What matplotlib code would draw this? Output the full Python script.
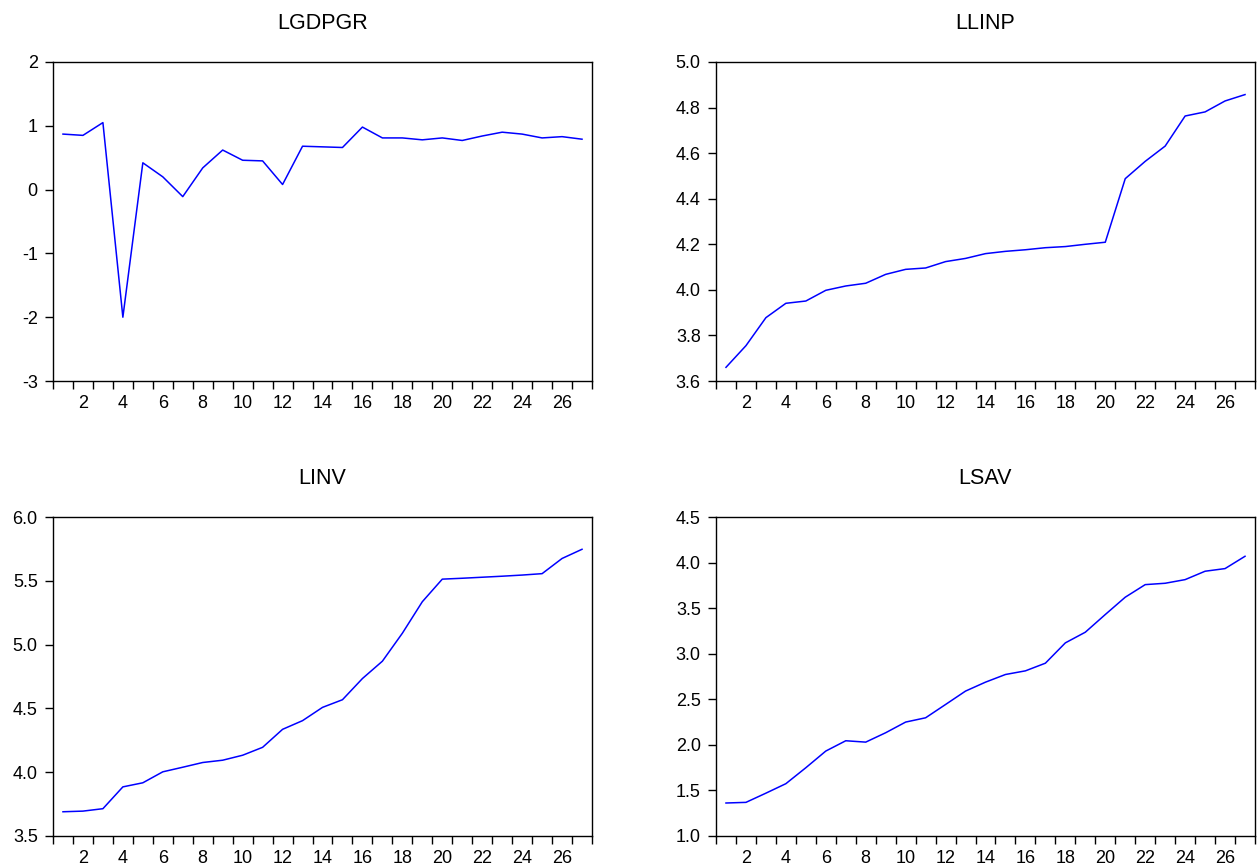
import matplotlib
matplotlib.use('Agg')
import matplotlib.pyplot as plt
import numpy as np

plt.rcParams['font.family'] = ['Liberation Sans', 'DejaVu Sans']
plt.rcParams['axes.unicode_minus'] = False

# observations 1..27
obs = np.arange(1, 28)

lgdpgr = [0.87, 0.85, 1.05, -2.00, 0.42, 0.20, -0.11, 0.34, 0.62, 0.46, 0.45, 0.08, 0.68, 0.67,
          0.66, 0.98, 0.81, 0.81, 0.78, 0.81, 0.77, 0.84, 0.90, 0.87, 0.81, 0.83, 0.79]
llinp = [3.660, 3.755, 3.878, 3.941, 3.951, 3.998, 4.017, 4.029, 4.068, 4.090, 4.096, 4.124, 4.138, 4.159,
         4.169, 4.176, 4.185, 4.190, 4.200, 4.209, 4.488, 4.564, 4.631, 4.763, 4.781, 4.829, 4.857]
linv = [3.690, 3.695, 3.714, 3.885, 3.917, 4.003, 4.039, 4.076, 4.094, 4.133, 4.195, 4.336, 4.404, 4.508,
        4.568, 4.734, 4.870, 5.089, 5.336, 5.513, 5.520, 5.528, 5.536, 5.545, 5.556, 5.675, 5.747]
lsav = [1.362, 1.369, 1.470, 1.574, 1.749, 1.932, 2.045, 2.030, 2.133, 2.250, 2.297, 2.443, 2.590, 2.688,
        2.772, 2.812, 2.896, 3.119, 3.236, 3.430, 3.620, 3.758, 3.773, 3.813, 3.905, 3.934, 4.069]

panels = [
    ('LGDPGR', lgdpgr, np.arange(-3, 2.01, 1), '%d'),
    ('LLINP', llinp, np.arange(3.6, 5.001, 0.2), '%.1f'),
    ('LINV', linv, np.arange(3.5, 6.001, 0.5), '%.1f'),
    ('LSAV', lsav, np.arange(1.0, 4.501, 0.5), '%.1f'),
]

fig = plt.figure(figsize=(12.6, 8.67), dpi=100)
W, H = 1260, 867
boxes = [(53, 62), (716, 62), (53, 517), (716, 517)]
aw, ah = 539, 319

for (title, vals, yt, fmt), (x0, y0) in zip(panels, boxes):
    ax = fig.add_axes([x0 / W, 1 - (y0 + ah) / H, aw / W, ah / H])
    ax.plot(obs, vals, color='#0000ff', linewidth=1.1)
    ax.set_xlim(0.5, 27.5)
    ax.set_ylim(yt[0], yt[-1])
    ax.set_yticks(yt)
    ax.set_yticklabels([fmt % v for v in yt])
    ax.set_xticks(range(2, 27, 2))
    ax.set_xticks(np.arange(0.5, 27.6, 1), minor=True)
    ax.tick_params(axis='x', which='major', length=0, pad=10, labelsize=13)
    ax.tick_params(axis='x', which='minor', length=6, width=1.0, direction='out')
    ax.tick_params(axis='y', length=6, width=1.0, pad=5, labelsize=13, direction='out')
    for s in ax.spines.values():
        s.set_linewidth(1.0)
    ax.set_title(title, fontsize=15.5, pad=24)

fig.savefig('out.png', dpi=100)
